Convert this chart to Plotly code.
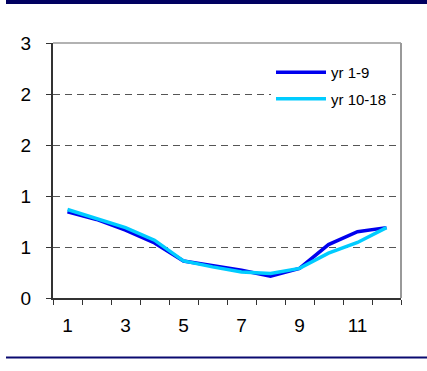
import plotly.graph_objects as go

# Monthly index values for the two periods
months = list(range(1, 13))
yr_1_9 = [0.845, 0.77, 0.665, 0.54, 0.363, 0.32, 0.272, 0.213, 0.29, 0.524, 0.65, 0.69]
yr_10_18 = [0.868, 0.78, 0.69, 0.567, 0.363, 0.305, 0.256, 0.24, 0.29, 0.44, 0.544, 0.69]

x_labels = [1, 3, 5, 7, 9, 11]
y_ticks = [0, 0.5, 1.0, 1.5, 2.0, 2.5]
y_labels = ["0", "1", "1", "2", "2", "3"]

W, H = 427, 371
ML, MR, MT, MB = 53, 26, 43, 73
plot_w = W - ML - MR
plot_h = H - MT - MB

FONT = "Liberation Sans, Arial, sans-serif"
TICK_FONT = dict(family=FONT, size=19, color="#000000")

fig = go.Figure()
fig.add_trace(go.Scatter(
    x=months, y=yr_1_9, mode="lines", name="yr 1-9",
    line=dict(color="#0000EE", width=3.5), legendgroup="a",
))
fig.add_trace(go.Scatter(
    x=months, y=yr_10_18, mode="lines", name="yr 10-18",
    line=dict(color="#00CCFF", width=3.5), legendgroup="b",
))


def px_x(p):
    return (p - ML) / plot_w


def px_y(p):
    return (H - MB - p) / plot_h


shapes = [
    # frame: top and right edges of the plot area
    dict(type="line", xref="paper", yref="paper", x0=0, x1=1, y0=1, y1=1,
         line=dict(color="#999999", width=1.5), layer="above"),
    dict(type="line", xref="paper", yref="paper", x0=1, x1=1, y0=0, y1=1,
         line=dict(color="#999999", width=2), layer="above"),
    # page header bar and footer rule
    dict(type="rect", xref="paper", yref="paper", x0=px_x(6), x1=px_x(W + 2),
         y0=px_y(4), y1=px_y(-2), fillcolor="#000060", line=dict(width=0)),
    dict(type="line", xref="paper", yref="paper", x0=px_x(6), x1=px_x(W + 2),
         y0=px_y(357.5), y1=px_y(357.5), line=dict(color="#0A0A70", width=2)),
]

fig.update_layout(
    width=W, height=H,
    margin=dict(l=ML, r=MR, t=MT, b=MB),
    paper_bgcolor="white", plot_bgcolor="white",
    font=dict(family=FONT, size=17, color="#000000"),
    showlegend=True,
    legend=dict(
        x=px_x(271), y=px_y(56), xanchor="left", yanchor="top",
        bgcolor="white", borderwidth=0, tracegroupgap=4, itemwidth=50,
        font=dict(family=FONT, size=15),
    ),
    shapes=shapes,
    xaxis=dict(
        range=[0.5, 12.5], tickmode="array", tickvals=x_labels,
        ticktext=[str(v) for v in x_labels], ticks="", tickfont=TICK_FONT,
        showgrid=False, zeroline=False, showline=True,
        linecolor="#333333", linewidth=1.5, ticklabelstandoff=9,
        minor=dict(tickmode="linear", tick0=0.5, dtick=1, ticks="outside",
                   ticklen=5, tickcolor="#333333", tickwidth=1, showgrid=False),
        fixedrange=True,
    ),
    yaxis=dict(
        range=[0, 2.5], tickmode="array", tickvals=y_ticks, ticktext=y_labels,
        ticks="outside", ticklen=5, tickcolor="#333333", tickwidth=1,
        tickfont=TICK_FONT,
        showgrid=True, gridcolor="#555555", gridwidth=1, griddash="7px,5px",
        zeroline=False, showline=True, linecolor="#333333", linewidth=2,
        ticklabelstandoff=11, fixedrange=True,
    ),
)

fig.write_html("out.html")
